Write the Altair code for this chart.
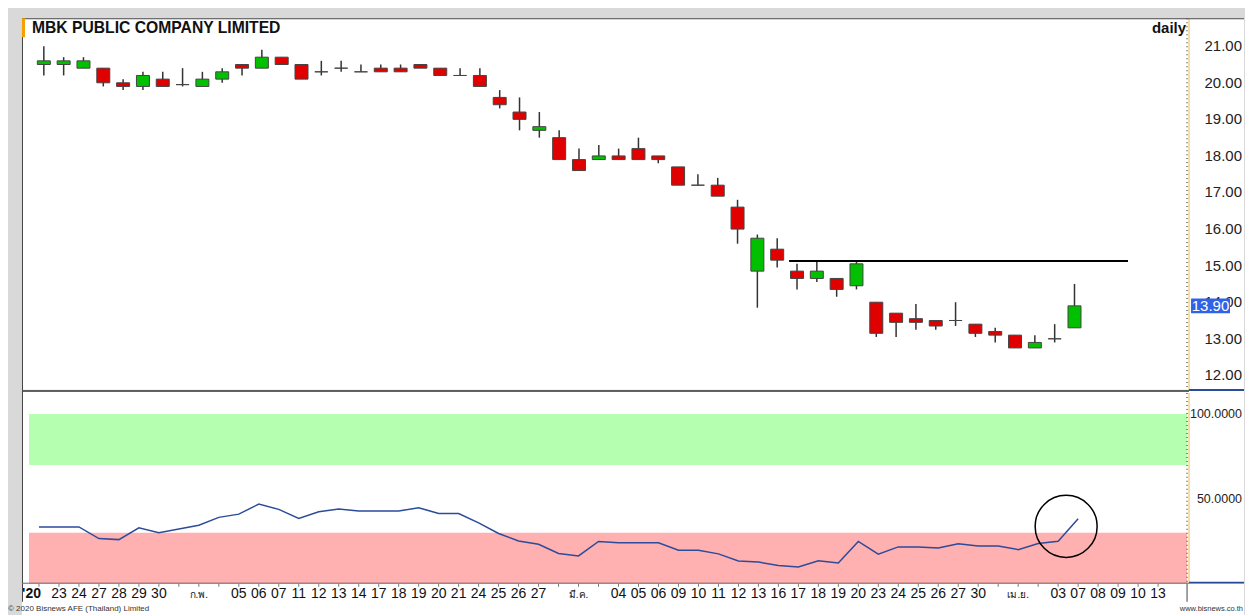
import altair as alt
import pandas as pd

# ---------------- data ----------------
title_text = "MBK PUBLIC COMPANY LIMITED"
period_text = "daily"
footer_left = "© 2020 Bisnews AFE (Thailand) Limited"
footer_right = "www.bisnews.co.th"

# x-axis slot labels (one per trading-day slot, blanks where a month label sits)
slot_labels = ["", "23", "24", "27", "28", "29", "30", "", "", "",
               "05", "06", "07", "11", "12", "13", "14", "17", "18", "19", "20", "21",
               "24", "25", "26", "27", "", "", "",
               "04", "05", "06", "09", "10", "11", "12", "13", "16", "17", "18", "19",
               "20", "23", "24", "25", "26", "27", "30", "", "", "",
               "03", "07", "08", "09", "10", "13"]
year_label = "'20"
month_labels = ["ก.พ.", "มี.ค.", "เม.ย."]
month_slots = [8, 27, 49]

opens = [20.5, 20.5, 20.4, 20.4, 20.0, 19.9, 20.1, 19.95, 19.9, 20.1,
         20.5, 20.4, 20.7, 20.5, 20.3, 20.4, 20.3, 20.4, 20.4, 20.5,
         20.4, 20.2, 20.2, 19.6, 19.2, 18.7, 18.5, 17.9, 17.9, 18.0,
         18.2, 18.0, 17.7, 17.2, 17.2, 16.6, 14.85, 15.45, 14.85, 14.65,
         14.65, 14.45, 14.0, 13.7, 13.55, 13.5, 13.5, 13.4, 13.2, 13.1,
         12.75, 13.0, 13.3]
highs = [21.0, 20.7, 20.7, 20.4, 20.1, 20.3, 20.3, 20.4, 20.3, 20.4,
         20.5, 20.9, 20.7, 20.5, 20.6, 20.6, 20.5, 20.5, 20.5, 20.5,
         20.4, 20.4, 20.4, 19.8, 19.6, 19.2, 18.7, 18.2, 18.3, 18.2,
         18.5, 18.0, 17.7, 17.5, 17.4, 16.8, 15.85, 15.75, 15.05, 15.15,
         14.65, 15.15, 14.0, 13.7, 13.95, 13.5, 14.0, 13.4, 13.3, 13.1,
         13.1, 13.4, 14.5]
lows = [20.2, 20.2, 20.4, 19.9, 19.8, 19.8, 19.9, 19.9, 19.9, 20.0,
        20.2, 20.4, 20.5, 20.1, 20.2, 20.3, 20.3, 20.3, 20.3, 20.4,
        20.2, 20.2, 19.9, 19.3, 18.7, 18.5, 17.9, 17.6, 17.9, 17.9,
        17.9, 17.8, 17.2, 17.2, 16.9, 15.6, 13.85, 14.95, 14.35, 14.55,
        14.15, 14.35, 13.05, 13.05, 13.25, 13.25, 13.35, 13.05, 12.9, 12.75,
        12.75, 12.9, 13.3]
closes = [20.6, 20.6, 20.6, 20.0, 19.9, 20.2, 19.9, 19.95, 20.1, 20.3,
          20.4, 20.7, 20.5, 20.1, 20.3, 20.4, 20.3, 20.3, 20.3, 20.4,
          20.2, 20.2, 19.9, 19.4, 19.0, 18.8, 17.9, 17.6, 18.0, 17.9,
          17.9, 17.9, 17.2, 17.2, 16.9, 16.0, 15.75, 15.15, 14.65, 14.85,
          14.35, 15.05, 13.15, 13.45, 13.45, 13.35, 13.5, 13.15, 13.1, 12.75,
          12.9, 13.0, 13.9]
osc = [33.5, 33.5, 33.5, 26.6, 26.0, 32.9, 30.0, 32.2, 34.5, 39.1,
       41.0, 46.9, 43.8, 38.5, 42.4, 44.0, 42.8, 42.8, 42.8, 44.8,
       41.4, 41.4, 35.9, 29.6, 25.2, 23.3, 17.8, 16.4, 24.9, 24.1,
       24.1, 24.1, 19.7, 19.7, 17.6, 13.4, 12.8, 10.8, 9.9, 13.6,
       12.2, 24.9, 17.4, 21.7, 21.7, 21.1, 23.5, 22.3, 22.3, 20.1,
       23.7, 25.0, 38.3]

price_ticks = [12, 13, 14, 15, 16, 17, 18, 19, 20, 21]
osc_ticks = [50, 100]
resist_level = [15.13]
resist_from = [37.6]
resist_to = [54.7]
zone_lo = [70, 0]
zone_hi = [100, 30]
zone_colors = ["#b4ffb0", "#ffb0b0"]
circle_slot = [51.4]
circle_value = [33.8]

UP, DOWN, FLAT = "#00c000", "#e00000", "#111111"

# ---------------- tables ----------------
n = len(opens)
fills = [UP if c > o else (DOWN if c < o else FLAT) for o, c in zip(opens, closes)]
candles = pd.DataFrame({"k": list(range(n)), "open": opens, "high": highs,
                        "low": lows, "close": closes, "fill": fills, "osc": osc})
labels_df = pd.DataFrame({"k": list(range(len(slot_labels))), "lab": slot_labels})
months_df = pd.DataFrame({"k": month_slots, "lab": month_labels})
year_df = pd.DataFrame({"k": [0], "lab": [year_label]})
res_df = pd.DataFrame({"k0": resist_from, "k1": resist_to, "level": resist_level})
last = closes[-1]
last_df = pd.DataFrame({"price": [last], "hi": [last + 0.2], "lo": [last - 0.2],
                        "label": [f"{last:.2f}"]})
zones_df = pd.DataFrame({"lo": zone_lo, "hi": zone_hi, "c": zone_colors})
circ_df = pd.DataFrame({"k": circle_slot, "v": circle_value})
ptick_df = pd.DataFrame({"v": price_ticks, "lab": [f"{v:.2f}" for v in price_ticks]})
otick_df = pd.DataFrame({"v": osc_ticks, "lab": [f"{v:.4f}" for v in osc_ticks]})
one = pd.DataFrame({"t": [title_text], "p": [period_text],
                    "fl": [footer_left], "fr": [footer_right]})

FONT = "Liberation Sans"
W = 1223          # panel width (page x 22 .. 1245)
AX = 1166         # plot-area right edge / axis line
H1, H2, H3 = 373, 193, 32
x_scale = alt.Scale(domain=[-0.85, 60.3], nice=False, zero=False)
y_price = alt.Scale(domain=[11.574, 21.765], nice=False, zero=False)
y_osc = alt.Scale(domain=[0, 113.53], nice=False, zero=False)
X = alt.X("k:Q", scale=x_scale, axis=None)


def hline(y, x0, x1, color="#444", width=1.0):
    return alt.Chart(one).mark_rule(color=color, strokeWidth=width).encode(
        x=alt.value(x0), x2=alt.value(x1), y=alt.value(y))


def vline(x, y0, y1, color="#444", width=1.0, dash=None):
    kw = {"strokeDash": dash} if dash else {}
    return alt.Chart(one).mark_rule(color=color, strokeWidth=width, **kw).encode(
        x=alt.value(x), y=alt.value(y0), y2=alt.value(y1))


# ---------------- upper panel ----------------
cbase = alt.Chart(candles)
wicks = cbase.mark_rule(color="#333", strokeWidth=1.5).encode(
    x=X, y=alt.Y("low:Q", scale=y_price, axis=None), y2="high:Q")
bodies = cbase.mark_bar(size=13, stroke="#444", strokeWidth=1).encode(
    x=X, y=alt.Y("open:Q", scale=y_price, axis=None), y2="close:Q",
    color=alt.Color("fill:N", scale=None))
resist = alt.Chart(res_df).mark_rule(color="black", strokeWidth=2).encode(
    x=alt.X("k0:Q", scale=x_scale, axis=None), x2="k1:Q",
    y=alt.Y("level:Q", scale=y_price, axis=None))
plabels = alt.Chart(ptick_df).mark_text(align="right", baseline="middle", fontSize=15,
                                        font=FONT, color="#222").encode(
    x=alt.value(1221), y=alt.Y("v:Q", scale=y_price, axis=None), text="lab:N")
box = alt.Chart(last_df).mark_rect(color="#2f62e6").encode(
    x=alt.value(1170), x2=alt.value(1209),
    y=alt.Y("hi:Q", scale=y_price, axis=None), y2="lo:Q")
box_txt = alt.Chart(last_df).mark_text(color="white", fontSize=15, font=FONT,
                                       align="center", baseline="middle").encode(
    x=alt.value(1189.5), y=alt.Y("price:Q", scale=y_price, axis=None), text="label:N")
title_mark = alt.Chart(one).mark_text(fontSize=15.7, font=FONT, fontWeight="bold",
                                      align="left", baseline="middle", color="#111").encode(
    x=alt.value(10), y=alt.value(10), text="t:N")
daily_mark = alt.Chart(one).mark_text(fontSize=15, font=FONT, fontWeight="bold",
                                      align="right", baseline="middle", color="#111").encode(
    x=alt.value(1165), y=alt.value(10), text="p:N")
orange = alt.Chart(one).mark_rect(color="#f5a000").encode(
    x=alt.value(0), x2=alt.value(3), y=alt.value(0), y2=alt.value(19))

upper = alt.layer(
    wicks, bodies, resist,
    vline(AX + 2, 0, H1, color="#f0d48a", width=1.5),
    vline(AX, 0, H1, color="#666", width=1.5, dash=[1, 3]),
    plabels, box, box_txt, title_mark, daily_mark,
    hline(0.5, 0, W), vline(0.5, 0, H1),
    hline(H1 - 0.5, 0, AX + 2, color="#555", width=1),
    hline(H1 - 1, AX + 2, W, color="#2a4a9a", width=2),
    orange,
).properties(width=W, height=H1,
             view=alt.ViewBackground(fill="white", stroke=None))

# ---------------- lower panel ----------------
zones = alt.Chart(zones_df).mark_rect().encode(
    x=alt.value(7), x2=alt.value(AX),
    y=alt.Y("lo:Q", scale=y_osc, axis=None), y2="hi:Q",
    color=alt.Color("c:N", scale=None))
osc_line = alt.Chart(candles).mark_line(color="#2b4b9b", strokeWidth=1.5).encode(
    x=X, y=alt.Y("osc:Q", scale=y_osc, axis=None))
circ = alt.Chart(circ_df).mark_point(shape="circle", size=3850, filled=False,
                                     color="black", strokeWidth=1.5, opacity=1).encode(
    x=X, y=alt.Y("v:Q", scale=y_osc, axis=None))
olabels = alt.Chart(otick_df).mark_text(align="right", baseline="middle", fontSize=12.5,
                                        font=FONT, color="#222").encode(
    x=alt.value(1221), y=alt.Y("v:Q", scale=y_osc, axis=None), text="lab:N")

lower = alt.layer(
    zones, osc_line, circ,
    vline(AX + 2, 2, H2, color="#f0d48a", width=1.5),
    vline(AX, 2, H2, color="#666", width=1.5, dash=[1, 3]),
    olabels,
    hline(0.5, 0, AX + 2, color="#555", width=1),
    vline(0.5, 0, H2),
    hline(H2 - 0.5, 0, AX + 2, color="#444", width=1),
    hline(H2 - 1, AX + 2, W, color="#2a4a9a", width=2),
).properties(width=W, height=H2,
             view=alt.ViewBackground(fill="white", stroke=None))

# ---------------- x labels + footer ----------------
xt = alt.Chart(labels_df).mark_rule(color="#777", strokeWidth=1).encode(
    x=X, y=alt.value(0), y2=alt.value(3))
xl = alt.Chart(labels_df).mark_text(fontSize=14, font=FONT, color="#111",
                                    baseline="middle").encode(
    x=X, y=alt.value(10), text="lab:N")
ml = alt.Chart(months_df).mark_text(fontSize=10, font=FONT, color="#111",
                                    baseline="middle").encode(
    x=X, y=alt.value(11), text="lab:N")
yl = alt.Chart(year_df).mark_text(fontSize=14, font=FONT, color="#111", fontWeight="bold",
                                  baseline="middle", align="right", dx=2).encode(
    x=X, y=alt.value(10), text="lab:N")
fl = alt.Chart(one).mark_text(fontSize=8, font=FONT, color="#333", align="left",
                              baseline="middle").encode(
    x=alt.value(-14), y=alt.value(25), text="fl:N")
fr = alt.Chart(one).mark_text(fontSize=7.5, font=FONT, color="#333", align="right",
                              baseline="middle").encode(
    x=alt.value(W - 1), y=alt.value(25), text="fr:N")

bottom = alt.layer(
    xt, xl, ml, yl,
    vline(AX, 0, 18), vline(0.5, 0, 18),
    fl, fr,
).properties(width=W, height=H3,
             view=alt.ViewBackground(fill="white", stroke=None))

chart = alt.vconcat(upper, lower, bottom, spacing=0, bounds="flush").properties(
    background="#d9d9d9",
    padding={"left": 0, "top": 9, "right": 0, "bottom": 0},
).configure(font=FONT)

chart.save("out.html", embed_options={"renderer": "svg", "actions": False})
